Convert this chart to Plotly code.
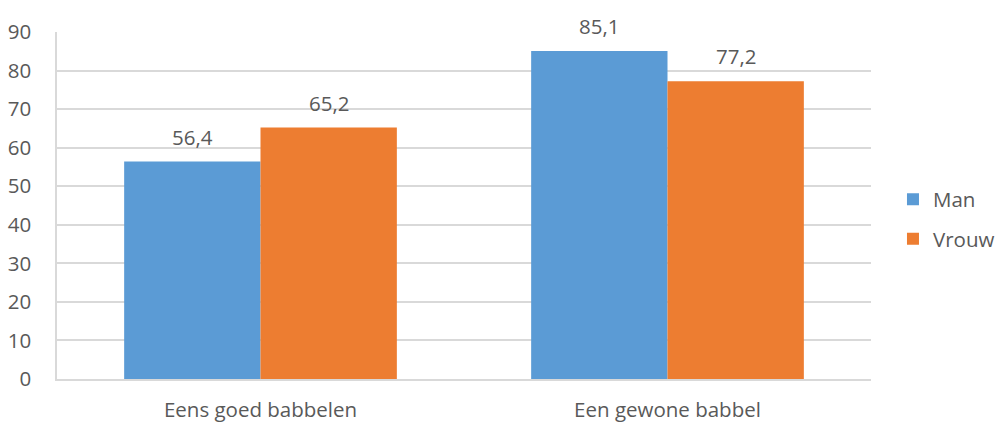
import plotly.graph_objects as go

categories = ["Eens goed babbelen", "Een gewone babbel"]
man = [56.4, 85.1]
vrouw = [65.2, 77.2]
series_names = ["Man", "Vrouw"]
colors = ["#5B9BD5", "#ED7D31"]

font = dict(family="Open Sans", size=20.5, color="#595959")
bargap = 0.33

fig = go.Figure()
series = [man, vrouw]
for k, (name, vals, col) in enumerate(zip(series_names, series, colors)):
    fig.add_trace(go.Bar(
        x=categories, y=vals, name=name, legendgroup=name,
        marker=dict(color=col, line=dict(width=0)),
    ))
    # value labels above the bars
    half = (1 - bargap) / 2
    offset = -half / 2 + k * half
    for i, v in enumerate(vals):
        fig.add_annotation(
            x=i + offset, y=v, xref="x", yref="y",
            text=f"{v:.1f}".replace(".", ","), showarrow=False,
            yanchor="bottom", yshift=9, font=font,
        )

fig.update_layout(
    width=996, height=422,
    margin=dict(l=57, r=125, t=32, b=43, autoexpand=False),
    paper_bgcolor="white", plot_bgcolor="white",
    barmode="group", bargap=bargap, bargroupgap=0,
    font=font,
    legend=dict(x=1.027, y=0.46, xanchor="left", yanchor="middle",
                font=font, itemwidth=30, tracegroupgap=10),
    yaxis=dict(range=[0, 90], dtick=10, showgrid=True, gridcolor="#D9D9D9",
               gridwidth=1.5, showline=True, linecolor="#D9D9D9", linewidth=1.5,
               zeroline=False, ticks="", ticklabelstandoff=20, tickfont=font,
               automargin=False),
    xaxis=dict(showline=True, linecolor="#D9D9D9", linewidth=1.5, ticks="",
               tickfont=font, ticklabelstandoff=12, automargin=False),
    showlegend=True,
)

fig.write_html("out.html")
